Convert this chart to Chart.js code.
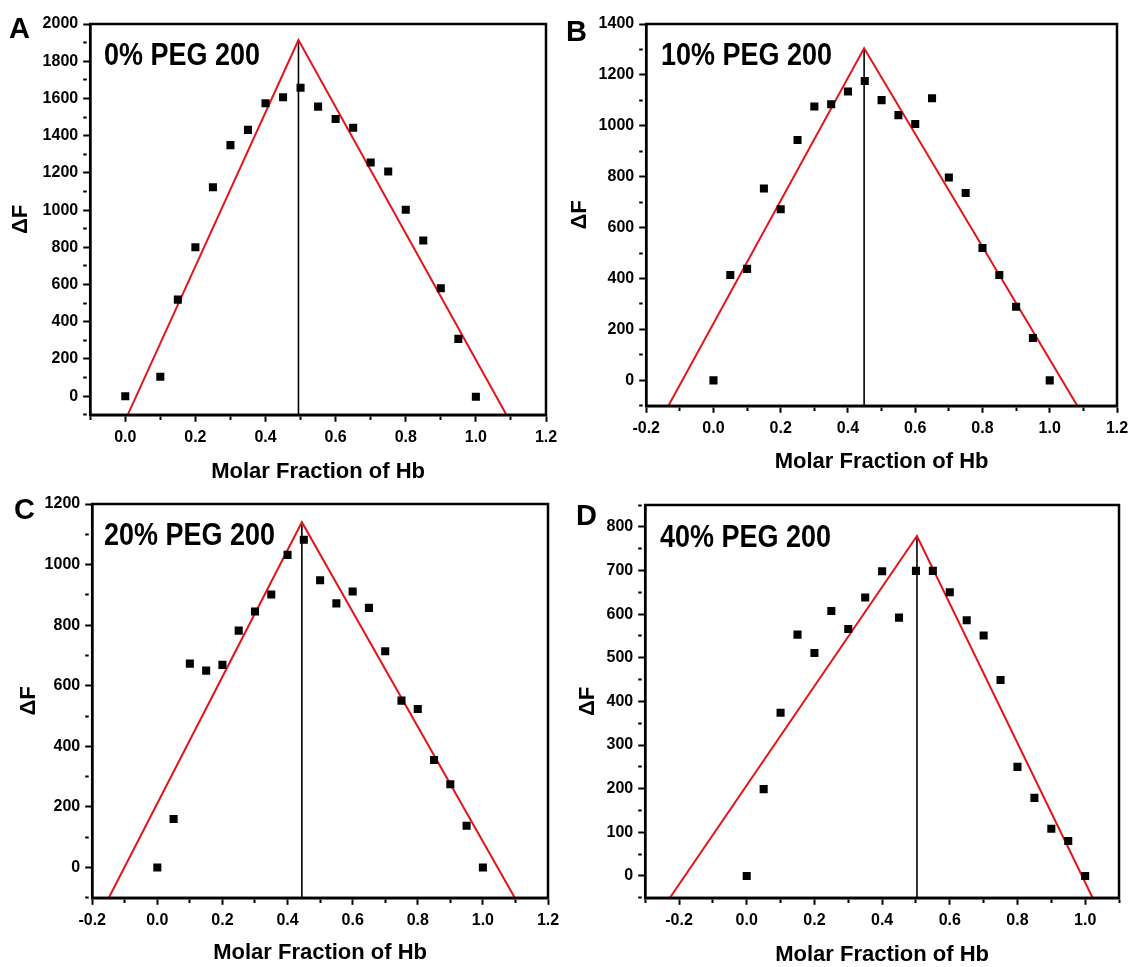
<!DOCTYPE html>
<html>
<head>
<meta charset="utf-8">
<script src="https://cdn.jsdelivr.net/npm/chart.js@4.4.1/dist/chart.umd.min.js"></script>
<style>
body{margin:0;background:#fff;}
#wrap{position:relative;width:1131px;height:967px;overflow:hidden;background:#fff;}
canvas{position:absolute;}
.lbl{position:absolute;font:bold 29px "Liberation Sans",Arial,sans-serif;line-height:1;color:#000;white-space:nowrap;}
.peg{font-size:31px;transform:scaleX(0.87);transform-origin:0 0;}
</style>
</head>
<body>
<div id="wrap">
<canvas id="cA"></canvas>
<canvas id="cB"></canvas>
<canvas id="cC"></canvas>
<canvas id="cD"></canvas>
</div>
<script>
// molar fraction of Hb (x) and fluorescence change (y)
const fracA = [0, 0.1, 0.15, 0.2, 0.25, 0.3, 0.35, 0.4, 0.45, 0.5, 0.55, 0.6, 0.65, 0.7, 0.75, 0.8, 0.85, 0.9, 0.95, 1.0];
const dfA = [0, 104, 519, 800, 1123, 1349, 1431, 1574, 1606, 1657, 1556, 1490, 1442, 1256, 1207, 1002, 837, 580, 308, -3];

const frac = [0, 0.05, 0.1, 0.15, 0.2, 0.25, 0.3, 0.35, 0.4, 0.45, 0.5, 0.55, 0.6, 0.65, 0.7, 0.75, 0.8, 0.85, 0.9, 0.95, 1.0];
const dfB = [0, 414, 438, 754, 672, 944, 1076, 1085, 1135, 1176, 1101, 1042, 1007, 1108, 797, 736, 520, 414, 289, 166, 0];
const dfC = [0, 160, 673, 650, 669, 782, 845, 901, 1032, 1082, 948, 872, 911, 857, 714, 551, 523, 355, 275, 138, 0];
const dfD = [0, 199, 374, 553, 511, 607, 566, 638, 698, 592, 699, 699, 650, 586, 551, 449, 250, 179, 108, 80, 0];

// red fit lines: left foot, apex, right foot
const fitXA = [0.007, 0.494, 1.087], fitYA = [-100, 1914, -100];
const fitXB = [-0.134, 0.448, 1.082], fitYB = [-100, 1305, -100];
const fitXC = [-0.149, 0.444, 1.098], fitYC = [-100, 1140, -100];
const fitXD = [-0.227, 0.503, 1.022], fitYD = [-50, 779, -50];

const panelLetters = ["A", "B", "C", "D"];
const pegLabels = ["0% PEG 200", "10% PEG 200", "20% PEG 200", "40% PEG 200"];
const xLimits = [[-0.1, 1.2], [-0.2, 1.2], [-0.2, 1.2], [-0.3, 1.1]];
const yLimits = [[-100, 2000], [-100, 1400], [-100, 1200], [-50, 850]];
const yMinorStep = [100, 100, 100, 50];

// page layout of each panel (plot box, axis title centres, text spots)
const boxes = [
  {l:90, r:546, t:24, b:415, yt:21, xt:472, letter:[9,14], peg:[104,39]},
  {l:646, r:1117, t:24, b:406, yt:580, xt:462, letter:[566,17], peg:[661,39]},
  {l:92, r:548, t:504, b:898, yt:29, xt:953, letter:[14,495], peg:[104,519]},
  {l:645, r:1119, t:505, b:898, yt:588, xt:955, letter:[576,501], peg:[660,521]}
];

const FONT = '"Liberation Sans", Arial, sans-serif';
const halfTitle = 22 * 1.2 / 2;

const framePlugin = {
  id: "frame",
  afterDatasetsDraw(chart){
    const a = chart.chartArea;
    const ctx = chart.ctx;
    ctx.save();
    ctx.lineWidth = 2.5;
    ctx.strokeStyle = "#000";
    ctx.strokeRect(a.left, a.top, a.right - a.left, a.bottom - a.top);
    ctx.restore();
  }
};

function pts(xs, ys){
  return xs.map((x, i) => ({x: x, y: ys[i]}));
}

function drawPanel(i, xs, ys, fx, fy){
  const g = boxes[i];
  const cx = g.yt - halfTitle;
  const cy = g.t - 24;
  const w = g.r + 30 - cx;
  const h = g.xt + halfTitle - cy;
  const cv = document.getElementById("c" + panelLetters[i]);
  cv.width = w; cv.height = h;
  cv.style.left = cx + "px"; cv.style.top = cy + "px";
  cv.style.width = w + "px"; cv.style.height = h + "px";

  const yMin = yLimits[i][0];
  const ystep = yMinorStep[i];
  const xMajor = v => Math.round(v * 10) % 2 === 0;
  const yMajor = v => Math.round(v) % (ystep * 2) === 0;

  const tickFont = {family: FONT, size: 16, weight: "bold"};
  const titleFont = {family: FONT, size: 22, weight: "bold"};

  new Chart(cv, {
    type: "scatter",
    data: {
      datasets: [
        {data: pts(xs, ys), pointStyle: "rect", pointRadius: 5.7, backgroundColor: "#000", borderWidth: 0},
        {data: pts(fx, fy), showLine: true, borderColor: "#e3161c", borderWidth: 2, pointRadius: 0},
        {data: [{x: fx[1], y: yMin}, {x: fx[1], y: fy[1]}], showLine: true, borderColor: "#000", borderWidth: 1.6, pointRadius: 0}
      ]
    },
    options: {
      responsive: false,
      animation: false,
      layout: {padding: {left: 0, top: 24, right: 30, bottom: 0}},
      plugins: {legend: {display: false}, tooltip: {enabled: false}},
      scales: {
        x: {
          type: "linear",
          min: xLimits[i][0], max: xLimits[i][1],
          afterFit: s => { s.height = g.xt + halfTitle - g.b; },
          ticks: {
            stepSize: 0.1, autoSkip: false, maxRotation: 0, padding: 6,
            color: "#000", font: tickFont,
            callback: v => xMajor(v) ? (Math.round(v * 10) / 10).toFixed(1) : ""
          },
          grid: {
            drawOnChartArea: false, drawTicks: true, tickLength: 7,
            tickColor: "#000", tickWidth: 2,
            tickBorderDash: c => (c.tick && !xMajor(c.tick.value)) ? [3.5, 50] : []
          },
          border: {display: true, color: "#000", width: 2.5},
          title: {display: true, text: "Molar Fraction of Hb", color: "#000", font: titleFont, padding: 0}
        },
        y: {
          type: "linear",
          min: yMin, max: yLimits[i][1],
          afterFit: s => { s.width = g.l - cx; },
          ticks: {
            stepSize: ystep, autoSkip: false, padding: 5,
            color: "#000", font: tickFont,
            callback: v => yMajor(v) ? String(Math.round(v)) : ""
          },
          grid: {
            drawOnChartArea: false, drawTicks: true, tickLength: 7,
            tickColor: "#000", tickWidth: 2,
            tickBorderDash: c => (c.tick && !yMajor(c.tick.value)) ? [3.5, 50] : []
          },
          border: {display: true, color: "#000", width: 2.5},
          title: {display: true, text: "ΔF", color: "#000", font: titleFont, padding: 0}
        }
      }
    },
    plugins: [framePlugin]
  });

  const wrap = document.getElementById("wrap");
  const a = document.createElement("div");
  a.className = "lbl";
  a.textContent = panelLetters[i];
  a.style.left = g.letter[0] + "px"; a.style.top = g.letter[1] + "px";
  wrap.appendChild(a);
  const p = document.createElement("div");
  p.className = "lbl peg";
  p.textContent = pegLabels[i];
  p.style.left = g.peg[0] + "px"; p.style.top = g.peg[1] + "px";
  wrap.appendChild(p);
}

drawPanel(0, fracA, dfA, fitXA, fitYA);
drawPanel(1, frac, dfB, fitXB, fitYB);
drawPanel(2, frac, dfC, fitXC, fitYC);
drawPanel(3, frac, dfD, fitXD, fitYD);
</script>
</body>
</html>
